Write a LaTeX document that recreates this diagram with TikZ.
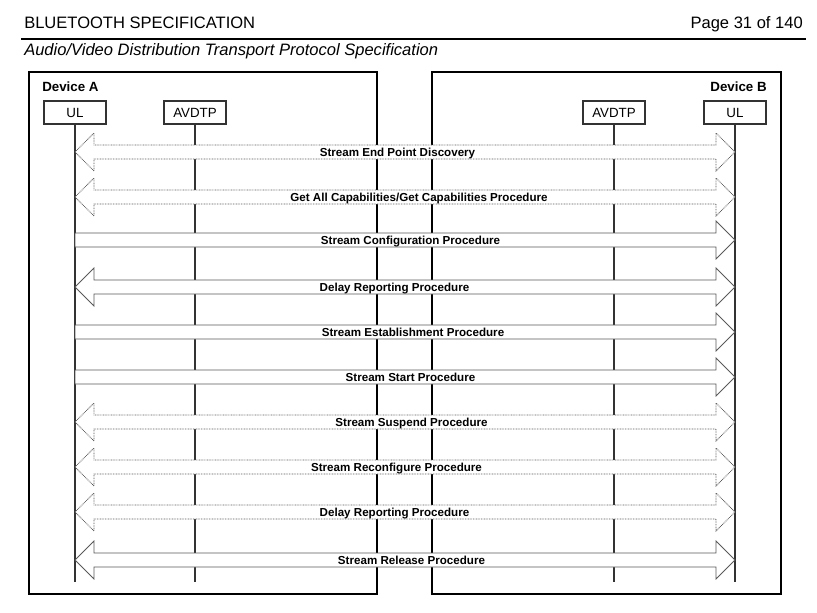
\documentclass[tikz,border=0pt]{standalone}
\usepackage{fontspec}
\setmainfont{Liberation Sans}
\usetikzlibrary{calc}
\tikzstyle{page_text} = [inner sep=0pt, font=\fontsize{12.4}{14}\selectfont]
\tikzstyle{device_frame} = [draw=black, line width=1.5pt]
\tikzstyle{device_name} = [inner sep=0pt, font=\fontsize{10}{12}\selectfont\bfseries]
\tikzstyle{entity_box} = [draw=black!80, line width=0.8pt, inner sep=0pt, minimum width=46.5pt, minimum height=17.25pt, font=\fontsize{10}{12}\selectfont]
\tikzstyle{life_line} = [draw=black!80, line width=1pt]
\tikzstyle{proc_solid} = [draw=black!65, fill=white, line width=0.6pt]
\tikzstyle{proc_dotted} = [proc_solid, dash pattern=on 0.6pt off 0.6pt]
\tikzstyle{proc_label} = [inner sep=0pt, anchor=base, font=\fontsize{8.7}{10}\selectfont\bfseries]

% double headed procedure arrow: style, name, y, label shift, label
\newcommand{\twoway}[5]{%
  \coordinate (#2L) at (ulA |- 0,#3);
  \coordinate (#2R) at (ulB |- 0,#3);
  \draw[#1] (#2L) -- ++(19,-19) -- ++(0,12) -- ($(#2R)+(-19,-7)$) -- ++(0,-12) -- (#2R)
    -- ++(-19,19) -- ++(0,-12) -- ($(#2L)+(19,7)$) -- ++(0,12) -- cycle;
  \node[proc_label] (#2) at ($(#2L)!0.5!(#2R)+(#4,4.5)$) {#5};
}
% single headed procedure arrow, A to B
\newcommand{\oneway}[5]{%
  \coordinate (#2L) at (ulA |- 0,#3);
  \coordinate (#2R) at (ulB |- 0,#3);
  \draw[#1] ($(#2L)+(0,-7)$) -- ($(#2R)+(-19,-7)$) -- ++(0,-12) -- (#2R)
    -- ++(-19,19) -- ++(0,-12) -- ($(#2L)+(0,7)$) -- cycle;
  \node[proc_label] (#2) at ($(#2L)!0.5!(#2R)+(#4,4.5)$) {#5};
}

\begin{document}
\begin{tikzpicture}[x=0.75pt, y=-0.75pt]
\useasboundingbox (0,0) rectangle (817,612);

% page header
\node (spec) at (24,28) [page_text, anchor=base west] {BLUETOOTH SPECIFICATION};
\node (page) at (803,28) [page_text, anchor=base east] {Page 31 of 140};
\draw[line width=1.5pt] (21,39) -- (806,39);
\node (title) at (24,55) [page_text, anchor=base west] {\itshape Audio/Video Distribution Transport Protocol Specification};

% devices
\draw[device_frame] (29,72) rectangle (377,594);
\draw[device_frame] (432,72) rectangle (781,594);
\node (devA) at (42,91) [device_name, anchor=base west] {Device A};
\node (devB) at (767,91) [device_name, anchor=base east] {Device B};

\node (ulA) at (75,112.5) [entity_box] {UL};
\node (avA) at (195,112.5) [entity_box] {AVDTP};
\node (avB) at (614,112.5) [entity_box] {AVDTP};
\node (ulB) at (735,112.5) [entity_box] {UL};
\foreach \n in {ulA,avA,avB,ulB}
  \draw[life_line] (\n.south) -- (\n.south |- 0,582);

% procedures
\twoway{proc_dotted}{disc}{152}{-7.5}{Stream End Point Discovery}
\twoway{proc_dotted}{caps}{197}{14}{Get All Capabilities/Get Capabilities Procedure}
\oneway{proc_solid}{conf}{240}{5.5}{Stream Configuration Procedure}
\twoway{proc_solid}{delayA}{287}{-10.5}{Delay Reporting Procedure}
\oneway{proc_solid}{estab}{332}{8}{Stream Establishment Procedure}
\oneway{proc_solid}{start}{377}{5.5}{Stream Start Procedure}
\twoway{proc_dotted}{susp}{422}{6.5}{Stream Suspend Procedure}
\twoway{proc_dotted}{reconf}{467}{-8.5}{Stream Reconfigure Procedure}
\twoway{proc_dotted}{delayB}{512}{-10.5}{Delay Reporting Procedure}
\twoway{proc_solid}{rel}{560}{6.5}{Stream Release Procedure}
\end{tikzpicture}
\end{document}
